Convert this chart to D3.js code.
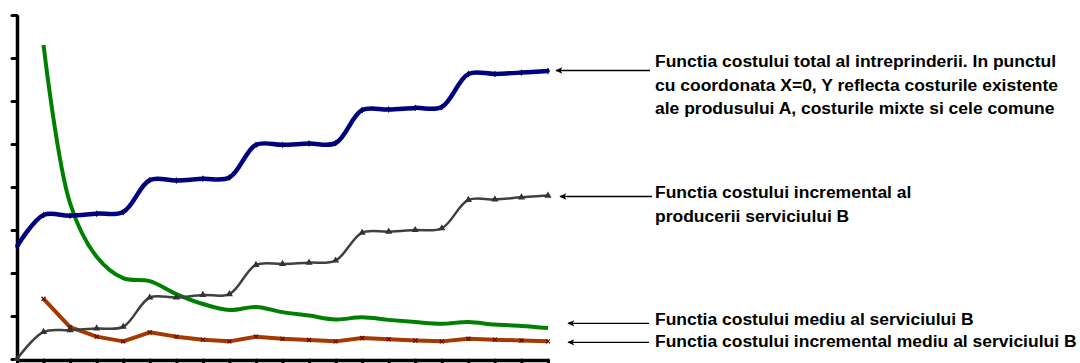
<!DOCTYPE html>
<html>
<head>
<meta charset="utf-8">
<script src="https://cdn.jsdelivr.net/npm/d3@7"></script>
<style>
  html, body { margin: 0; padding: 0; background: #fff; }
  svg { display: block; }
  .lbl { font-family: "Liberation Sans", Arial, sans-serif; font-weight: bold; font-size: 16px; fill: #000; }
</style>
</head>
<body>
<svg id="chart" width="1080" height="363"></svg>
<script>
// ---- data ----
const xValues = [0,1,2,3,4,5,6,7,8,9,10,11,12,13,14,15,16,17,18,19,20];
const totalCost = [2.62,3.35,3.33,3.38,3.42,4.16,4.15,4.19,4.22,4.98,4.98,5.01,5.02,5.79,5.80,5.84,5.86,6.63,6.63,6.66,6.70];
const incrementalCost = [0,0.63,0.67,0.71,0.75,1.43,1.43,1.49,1.51,2.19,2.21,2.24,2.29,2.94,2.96,3.00,3.04,3.70,3.71,3.76,3.80];
const averageCost = [null,7.30,3.62,2.38,1.88,1.81,1.51,1.28,1.14,1.21,1.09,1.01,0.92,0.97,0.91,0.86,0.82,0.86,0.80,0.77,0.72];
const incrementalAvgCost = [null,1.40,0.74,0.52,0.41,0.62,0.52,0.45,0.41,0.52,0.47,0.44,0.41,0.49,0.46,0.43,0.41,0.47,0.45,0.43,0.41];
const yTickValues = [0,1,2,3,4,5,6,7,8];
const labelTotal = ["Functia costului total al intreprinderii. In punctul",
                    "cu coordonata X=0, Y reflecta costurile existente",
                    "ale produsului A, costurile mixte si cele comune"];
const labelIncremental = ["Functia costului incremental al", "producerii serviciului B"];
const labelAverage = ["Functia costului mediu al serviciului B"];
const labelIncAvg = ["Functia costului incremental mediu al serviciului B"];

// ---- chart ----
const svg = d3.select("#chart");
const x = d3.scaleLinear().domain([0, 20]).range([17, 548]);
const y = d3.scaleLinear().domain([0, 8]).range([359, 15]);

const defs = svg.append("defs");
defs.append("marker").attr("id", "arrow").attr("viewBox", "0 0 10 10")
  .attr("refX", 9).attr("refY", 5).attr("markerWidth", 10).attr("markerHeight", 7)
  .attr("markerUnits", "userSpaceOnUse").attr("orient", "auto")
  .append("path").attr("d", "M0,0.5 L10,5 L0,9.5 L2.5,5 Z").attr("fill", "#000");

// axes
const yAxis = svg.append("g").attr("transform", "translate(17,0)")
  .call(d3.axisLeft(y).tickValues(yTickValues).tickSize(5).tickSizeOuter(0).tickFormat(""));
const xAxis = svg.append("g").attr("transform", "translate(0,360)")
  .call(d3.axisBottom(x).tickValues(xValues).tickSize(5).tickSizeOuter(0).tickFormat(""));
[yAxis, xAxis].forEach(g => {
  g.select(".domain").attr("stroke", "#000").attr("stroke-width", 3.5);
  g.selectAll(".tick line").attr("stroke", "#000").attr("stroke-width", 3).attr("stroke-linecap", "round");
});

function pts(arr) {
  return xValues.map((xv, i) => [xv, arr[i]]).filter(d => d[1] !== null);
}
const smooth = d3.line().x(d => x(d[0])).y(d => y(d[1])).curve(d3.curveCatmullRom.alpha(0.5));
const straight = d3.line().x(d => x(d[0])).y(d => y(d[1]));

// green average cost
svg.append("path").attr("d", smooth(pts(averageCost)))
  .attr("fill", "none").attr("stroke", "#008000").attr("stroke-width", 4).attr("stroke-linejoin", "round");

// red incremental average cost
svg.append("path").attr("d", straight(pts(incrementalAvgCost)))
  .attr("fill", "none").attr("stroke", "#a33a00").attr("stroke-width", 4).attr("stroke-linejoin", "round");
svg.append("g").selectAll("path").data(pts(incrementalAvgCost)).join("path")
  .attr("transform", d => `translate(${x(d[0])},${y(d[1])})`)
  .attr("d", "M-2,-2L2,2M-2,2L2,-2").attr("stroke", "#7a0000").attr("stroke-width", 1.3);

// gray incremental cost
svg.append("path").attr("d", smooth(pts(incrementalCost)))
  .attr("fill", "none").attr("stroke", "#404040").attr("stroke-width", 2.5);
svg.append("g").selectAll("path").data(pts(incrementalCost)).join("path")
  .attr("transform", d => `translate(${x(d[0])},${y(d[1])})`)
  .attr("d", d3.symbol(d3.symbolTriangle, 22)).attr("fill", "#333");

// blue total cost
svg.append("path").attr("d", smooth(pts(totalCost)))
  .attr("fill", "none").attr("stroke", "#000080").attr("stroke-width", 4.5);
svg.append("g").selectAll("path").data(pts(totalCost)).join("path")
  .attr("transform", d => `translate(${x(d[0])},${y(d[1])})`)
  .attr("d", d3.symbol(d3.symbolDiamond, 14)).attr("fill", "#000060");

// annotations
function annotate(lines, arrowY, x1, x2, baseY, gap) {
  svg.append("line").attr("x1", x2).attr("y1", arrowY).attr("x2", x1).attr("y2", arrowY)
    .attr("stroke", "#000").attr("stroke-width", 1.3).attr("marker-end", "url(#arrow)");
  const t = svg.append("text").attr("class", "lbl")
    .attr("transform", "translate(655,0) scale(1.093,1)")
    .attr("x", 0).attr("y", baseY);
  lines.forEach((l, i) => t.append("tspan").attr("x", 0).attr("dy", i === 0 ? 0 : gap).text(l));
}
annotate(labelTotal, 70.5, 556, 650, 67.3, 23.5);
annotate(labelIncremental, 196.5, 560, 652, 198, 23.7);
annotate(labelAverage, 323.3, 568, 649, 325, 0);
annotate(labelIncAvg, 342.3, 568, 649, 346.7, 0);
</script>
</body>
</html>
